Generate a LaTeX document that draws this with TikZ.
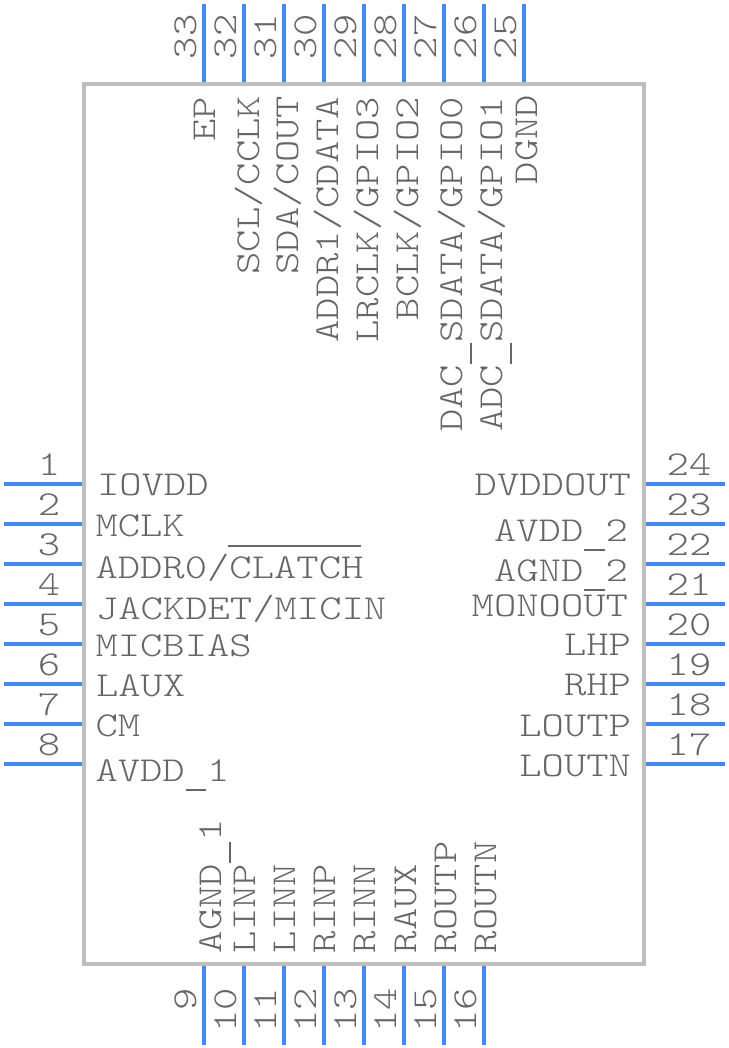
\documentclass[tikz,border=0pt]{standalone}
\usepackage{graphicx}
\definecolor{pinblue}{HTML}{4488F4}
\definecolor{boxgray}{HTML}{BEBEBE}
\definecolor{txtgray}{HTML}{666666}
\newcommand{\lt}[1]{\scalebox{1.215}[1]{#1}}
\newcommand{\us}{\makebox[18.375pt][c]{\rule[-9.8pt]{17.2pt}{1.5pt}}}
\tikzset{
  every node/.style={inner sep=0pt,outer sep=0pt},
  chipbox/.style={draw=boxgray,line width=3.4pt,fill=white,minimum width=560pt,minimum height=880pt,anchor=north west},
  pinline/.style={draw=pinblue,line width=3.4pt},
  lbl/.style={text=txtgray,font=\fontfamily{lmtt}\fontseries{l}\selectfont\fontsize{35}{35}\selectfont},
  barline/.style={draw=txtgray,line width=1.5pt},
}
\begin{document}
\begin{tikzpicture}[x=1pt,y=-1pt]
\useasboundingbox (0,0) rectangle (728,1048);
\node[chipbox] (chip) at (84,84) {};
% pins
\foreach \n/\y in {1/484,2/524,3/564,4/604,5/644,6/684,7/724,8/764}{
  \coordinate (pa\n) at (4,\y); \coordinate (pb\n) at (82,\y);
  \draw[pinline] (pa\n) -- (pb\n);
}
\foreach \n/\y in {24/484,23/524,22/564,21/604,20/644,19/684,18/724,17/764}{
  \coordinate (pa\n) at (725,\y); \coordinate (pb\n) at (646,\y);
  \draw[pinline] (pa\n) -- (pb\n);
}
\foreach \n/\x in {33/204,32/244,31/284,30/324,29/364,28/404,27/444,26/484,25/524}{
  \coordinate (pa\n) at (\x,4); \coordinate (pb\n) at (\x,82);
  \draw[pinline] (pa\n) -- (pb\n);
}
\foreach \n/\x in {9/204,10/244,11/284,12/324,13/364,14/404,15/444,16/484}{
  \coordinate (pa\n) at (\x,1045); \coordinate (pb\n) at (\x,966);
  \draw[pinline] (pa\n) -- (pb\n);
}
% pin numbers
\foreach \n/\y in {1/475,2/515,3/555,4/595,5/635,6/675,7/715,8/755}{
  \node[lbl,anchor=base] (num\n) at (49,\y) {\lt{\n}};
}
\foreach \n/\y in {24/475,23/515,22/555,21/595,20/635,19/675,18/715,17/755}{
  \node[lbl,anchor=base] (num\n) at (689,\y) {\lt{\n}};
}
\foreach \n/\x in {33/196,32/236,31/276,30/316,29/356,28/396,27/436,26/476,25/516}{
  \node[lbl,anchor=base,rotate=90] (num\n) at (\x,37) {\lt{\n}};
}
\foreach \n/\x in {9/196,10/236,11/276,12/316,13/356,14/396,15/436,16/476}{
  \node[lbl,anchor=base east,rotate=90] (num\n) at (\x,988) {\lt{\n}};
}
% left labels
\node[lbl,anchor=base west] (l1) at (97,495) {\lt{IOVDD}};
\node[lbl,anchor=base west] (l2) at (95.5,536) {\lt{MCLK}};
\node[lbl,anchor=base west] (l3) at (95.5,578) {\lt{ADDR0/CLATCH}};
\node[lbl,anchor=base west] (l4) at (96,619) {\lt{JACKDET/MICIN}};
\node[lbl,anchor=base west] (l5) at (95.5,656) {\lt{MICBIAS}};
\node[lbl,anchor=base west] (l6) at (96,696) {\lt{LAUX}};
\node[lbl,anchor=base west] (l7) at (95.5,736) {\lt{CM}};
\node[lbl,anchor=base west] (l8) at (95.5,781) {\lt{AVDD\us 1}};
\coordinate (barA) at (228,546); \coordinate (barB) at (361,546);
\draw[barline] (barA) -- (barB);
% right labels
\node[lbl,anchor=base east] (r24) at (631,495) {\lt{DVDDOUT}};
\node[lbl,anchor=base east] (r23) at (628,541) {\lt{AVDD\us 2}};
\node[lbl,anchor=base east] (r22) at (628,581) {\lt{AGND\us 2}};
\node[lbl,anchor=base east] (r21) at (628,616) {\lt{MONOOUT}};
\node[lbl,anchor=base east] (r20) at (631,655) {\lt{LHP}};
\node[lbl,anchor=base east] (r19) at (631,695) {\lt{RHP}};
\node[lbl,anchor=base east] (r18) at (631,736) {\lt{LOUTP}};
\node[lbl,anchor=base east] (r17) at (631,776) {\lt{LOUTN}};
% top labels
\node[lbl,anchor=base east,rotate=90] (t33) at (215.5,97) {\lt{EP}};
\node[lbl,anchor=base east,rotate=90] (t32) at (259.5,96) {\lt{SCL/CCLK}};
\node[lbl,anchor=base east,rotate=90] (t31) at (298.5,96) {\lt{SDA/COUT}};
\node[lbl,anchor=base east,rotate=90] (t30) at (338.5,97) {\lt{ADDR1/CDATA}};
\node[lbl,anchor=base east,rotate=90] (t29) at (378,97) {\lt{LRCLK/GPIO3}};
\node[lbl,anchor=base east,rotate=90] (t28) at (418,97) {\lt{BCLK/GPIO2}};
\node[lbl,anchor=base east,rotate=90] (t27) at (462,97) {\lt{DAC\us SDATA/GPIO0}};
\node[lbl,anchor=base east,rotate=90] (t26) at (502,97) {\lt{ADC\us SDATA/GPIO1}};
\node[lbl,anchor=base east,rotate=90] (t25) at (537,95) {\lt{DGND}};
% bottom labels
\node[lbl,anchor=base west,rotate=90] (b9) at (221,953) {\lt{AGND\us 1}};
\node[lbl,anchor=base west,rotate=90] (b10) at (255,953) {\lt{LINP}};
\node[lbl,anchor=base west,rotate=90] (b11) at (295,953) {\lt{LINN}};
\node[lbl,anchor=base west,rotate=90] (b12) at (335,953) {\lt{RINP}};
\node[lbl,anchor=base west,rotate=90] (b13) at (375,953) {\lt{RINN}};
\node[lbl,anchor=base west,rotate=90] (b14) at (416,953) {\lt{RAUX}};
\node[lbl,anchor=base west,rotate=90] (b15) at (456,953) {\lt{ROUTP}};
\node[lbl,anchor=base west,rotate=90] (b16) at (496,953) {\lt{ROUTN}};
\end{tikzpicture}
\end{document}
